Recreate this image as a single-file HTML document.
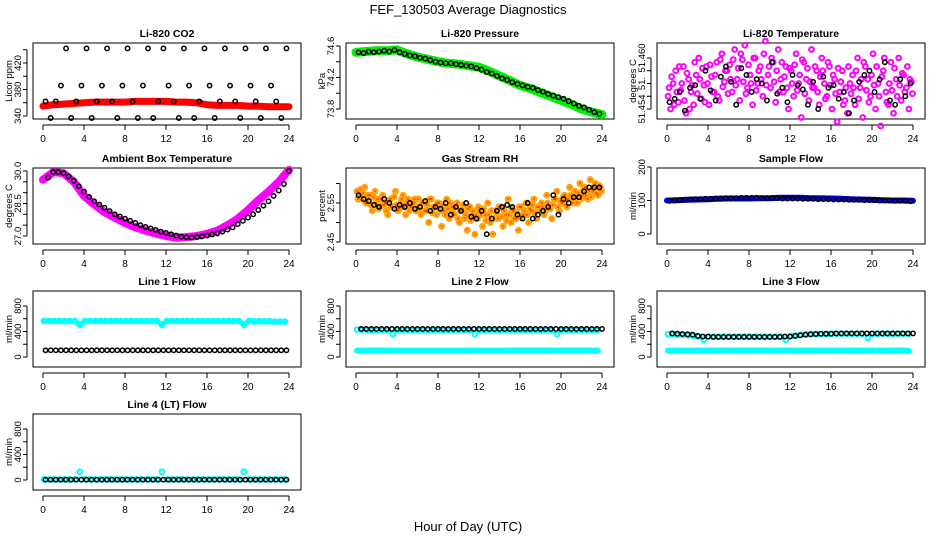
<!DOCTYPE html>
<html><head><meta charset="utf-8"><style>
html,body{margin:0;padding:0;background:#fff;}
svg{display:block;font-family:"Liberation Sans",sans-serif;}
</style></head><body>
<svg id="chart" width="936" height="540" viewBox="0 0 936 540" xmlns="http://www.w3.org/2000/svg">
<text x="468" y="14" text-anchor="middle" font-size="13">FEF_130503  Average Diagnostics</text>
<text x="468" y="531" text-anchor="middle" font-size="13">Hour of Day (UTC)</text>
</svg>
<script>
// ---- data ----
const xTicks=[0,4,8,12,16,20,24];
const co2Red=[355,357,358,359,360,361,361,361,361,362,362,362,362,361,361,360,357,356,356,356,355,355,354,354,354];
const co2Black=[362,337,362,386,442,337,362,386,442,337,362,386,442,362,337,386,442,362,337,386,442,337,362,442,386,362,337,442,386,337,362,442,386,337,362,442,386,362,337,442,386,362,337,442,386,362,337,442];
const presGreen=[74.52,74.53,74.54,74.54,74.55,74.50,74.46,74.43,74.40,74.38,74.37,74.35,74.33,74.28,74.22,74.16,74.10,74.06,74.01,73.96,73.91,73.86,73.80,73.76,73.73];
const presBlack=[74.52,74.51,74.53,74.52,74.53,74.54,74.53,74.55,74.52,74.50,74.48,74.47,74.45,74.44,74.42,74.40,74.39,74.38,74.38,74.37,74.36,74.35,74.34,74.32,74.30,74.27,74.25,74.22,74.19,74.17,74.14,74.12,74.10,74.08,74.07,74.04,74.02,73.99,73.97,73.95,73.93,73.90,73.87,73.84,73.82,73.79,73.76,73.74];
const tempMag=[51.4555,51.4540,51.4570,51.4585,51.4548,51.4562,51.4590,51.4535,51.4575,51.4560,51.4545,51.4580,51.4600,51.4552,51.4568,51.4590,51.4545,51.4578,51.4560,51.4595,51.4550,51.4605,51.4572,51.4585,
51.4592,51.4560,51.4610,51.4575,51.4550,51.4598,51.4615,51.4565,51.4580,51.4545,51.4600,51.4570,51.4590,51.4555,51.4620,51.4580,51.4565,51.4595,51.4548,51.4610,51.4575,51.4560,51.4590,51.4540,
51.4585,51.4555,51.4605,51.4570,51.4530,51.4595,51.4575,51.4550,51.4610,51.4565,51.4585,51.4545,51.4600,51.4570,51.4555,51.4590,51.4540,51.4575,51.4525,51.4560,51.4585,51.4550,51.4535,51.4570,
51.4580,51.4545,51.4600,51.4565,51.4530,51.4590,51.4575,51.4555,51.4605,51.4540,51.4570,51.4520,51.4585,51.4560,51.4545,51.4595,51.4535,51.4575,51.4600,51.4550,51.4580,51.4565,51.4540,51.4572];
const tempMag2=[51.4565,51.4578,51.4545,51.4560,51.4590,51.4570,51.4550,51.4582,51.4540,51.4568,51.4595,51.4558,51.4575,51.4588,51.4548,51.4570,51.4592,51.4560,51.4580,51.4555,51.4598,51.4566,51.4585,51.4558,
51.4575,51.4598,51.4568,51.4588,51.4605,51.4572,51.4558,51.4592,51.4570,51.4600,51.4562,51.4585,51.4575,51.4605,51.4568,51.4590,51.4600,51.4572,51.4585,51.4560,51.4595,51.4578,51.4565,51.4588,
51.4570,51.4592,51.4562,51.4580,51.4598,51.4558,51.4588,51.4572,51.4565,51.4590,51.4560,51.4578,51.4585,51.4552,51.4595,51.4568,51.4580,51.4558,51.4588,51.4572,51.4545,51.4565,51.4590,51.4558,
51.4565,51.4585,51.4552,51.4575,51.4595,51.4562,51.4548,51.4580,51.4568,51.4590,51.4555,51.4578,51.4600,51.4548,51.4570,51.4562,51.4588,51.4555,51.4568,51.4582,51.4560,51.4590,51.4575,51.4558];
const tempBlack=[51.4548,51.4552,51.4560,51.4538,51.4565,51.4568,51.4552,51.4585,51.4562,51.4550,51.4578,51.4590,51.4572,51.4545,51.4588,51.4580,51.4560,51.4575,51.4570,51.4550,51.4595,51.4558,51.4565,51.4548,51.4580,51.4568,51.4563,51.4545,51.4572,51.4540,51.4578,51.4565,51.4568,51.4552,51.4560,51.4535,51.4550,51.4572,51.4580,51.4585,51.4560,51.4575,51.4595,51.4550,51.4545,51.4575,51.4555,51.4570];
const ambMag=[29.6,29.95,29.9,29.5,28.85,28.45,28.1,27.85,27.6,27.4,27.25,27.12,27.0,26.92,26.95,27.0,27.1,27.25,27.5,27.8,28.2,28.65,29.05,29.5,30.05];
const ambBlack=[29.7,29.95,29.95,29.9,29.75,29.55,29.3,29.05,28.8,28.6,28.45,28.3,28.15,28.0,27.9,27.8,27.7,27.6,27.5,27.42,27.35,27.28,27.2,27.14,27.08,27.02,26.97,26.94,26.93,26.95,26.98,27.02,27.07,27.12,27.2,27.3,27.4,27.55,27.7,27.85,28.0,28.2,28.4,28.6,28.85,29.1,29.4,30.0];
const rhOrange=[2.58,2.57,2.56,2.59,2.55,2.57,2.53,2.58,2.56,2.54,2.57,2.55,2.52,2.56,2.54,2.58,2.53,2.55,2.57,2.52,2.56,2.54,2.55,2.53,
2.56,2.52,2.55,2.53,2.50,2.56,2.54,2.52,2.55,2.49,2.53,2.56,2.51,2.54,2.52,2.55,2.50,2.53,2.51,2.48,2.54,2.52,2.47,2.51,
2.53,2.49,2.52,2.55,2.50,2.47,2.53,2.51,2.54,2.49,2.52,2.56,2.50,2.53,2.51,2.48,2.54,2.52,2.55,2.50,2.53,2.56,2.51,2.54,
2.55,2.52,2.57,2.54,2.51,2.56,2.58,2.53,2.55,2.57,2.54,2.59,2.56,2.58,2.55,2.60,2.57,2.59,2.56,2.61,2.58,2.60,2.57,2.59];
const rhOrange2=[2.56,2.585,2.575,2.55,2.57,2.545,2.565,2.55,2.535,2.56,2.545,2.53,2.555,2.54,2.565,2.545,2.535,2.56,2.54,2.55,2.53,2.545,2.56,2.54,
2.535,2.55,2.53,2.545,2.56,2.525,2.54,2.55,2.53,2.545,2.52,2.535,2.55,2.525,2.54,2.51,2.53,2.545,2.52,2.535,2.505,2.53,2.52,2.54,
2.52,2.535,2.505,2.52,2.53,2.51,2.525,2.54,2.515,2.53,2.505,2.52,2.535,2.51,2.525,2.54,2.515,2.53,2.52,2.535,2.545,2.525,2.54,2.53,
2.54,2.53,2.55,2.535,2.545,2.56,2.54,2.555,2.565,2.545,2.56,2.57,2.55,2.565,2.575,2.56,2.585,2.57,2.58,2.565,2.59,2.575,2.595,2.58];
const rhBlack=[2.57,2.56,2.555,2.545,2.54,2.56,2.55,2.535,2.545,2.54,2.55,2.535,2.54,2.555,2.53,2.54,2.535,2.55,2.52,2.54,2.53,2.55,2.515,2.51,2.53,2.47,2.51,2.53,2.54,2.545,2.54,2.52,2.51,2.55,2.51,2.52,2.53,2.54,2.57,2.52,2.56,2.55,2.565,2.565,2.58,2.59,2.59,2.59];
const sfBlue=[100,101,102,103,104,105,106,106,106,107,107,108,108,108,107,107,106,105,104,103,102,101,100,100,99];
const sfBlack=[99,100,101,102,103,104,104,105,105,106,106,107,107,107,108,108,108,108,107,107,107,107,106,106,106,106,105,105,105,104,104,104,103,103,103,102,102,102,101,101,101,100,100,100,99,99,99,98];
const l1Cyan=[565,565,565,565,565,565,565,505,565,565,565,565,565,565,565,565,565,565,565,565,565,565,565,505,565,565,565,565,565,565,565,565,565,565,565,565,565,565,565,505,565,560,560,560,560,555,555,555];
const l1Black=[105,105,105,105,105,105,105,105,105,105,105,105,105,105,105,105,105,105,105,105,105,105,105,105,105,105,105,105,105,105,105,105,105,105,105,105,105,105,105,105,105,105,105,105,105,105,105,105];
const l2CyanHi=[430,425,420,420,420,420,420,360,420,420,420,420,420,420,420,420,420,420,420,420,420,420,420,360,420,420,420,420,420,420,420,420,420,420,420,420,420,420,420,360,420,420,420,420,420,420,420,420];
const l2CyanLo=[100,100,100,100,100,100,100,100,100,100,100,100,100,100,100,100,100,100,100,100,100,100,100,100,100,100,100,100,100,100,100,100,100,100,100,100,100,100,100,100,100,100,100,100,100,100,100,100];
const l2Black=[440,440,440,440,440,440,440,440,440,440,440,440,440,440,440,440,440,440,440,440,440,440,440,440,440,440,440,440,440,440,440,440,440,440,440,440,440,440,440,440,440,440,440,440,440,440,440,440];
const l3CyanHi=[360,355,350,345,340,330,320,270,320,320,320,320,320,320,320,320,320,320,320,320,320,320,320,270,330,340,350,355,360,360,360,360,365,365,365,365,365,365,365,300,365,365,365,365,365,365,365,365];
const l3CyanLo=[100,100,100,100,100,100,100,100,100,100,100,100,100,100,100,100,100,100,100,100,100,100,100,100,100,100,100,100,100,100,100,100,100,100,100,100,100,100,100,100,100,100,100,100,100,100,100,95];
const l3Black=[370,365,360,355,350,330,320,320,315,315,315,315,315,315,315,315,315,315,315,315,315,315,320,320,330,340,350,355,360,365,365,365,370,370,370,370,370,370,370,370,370,370,370,370,370,370,370,370];
const l4Cyan=[10,10,10,10,10,10,10,130,10,10,10,10,10,10,10,10,10,10,10,10,10,10,10,130,10,10,10,10,10,10,10,10,10,10,10,10,10,10,10,130,10,10,10,10,10,10,10,10];
const l4Black=[5,5,5,5,5,5,5,5,5,5,5,5,5,5,5,5,5,5,5,5,5,5,5,5,5,5,5,5,5,5,5,5,5,5,5,5,5,5,5,5,5,5,5,5,5,5,5,5];
const flowTicks=[0,200,400,600,800];
const flowLabels=["0","","400","","800"];

// ---- drawing ----
const NS="http://www.w3.org/2000/svg";
const svg=document.getElementById('chart');
function mk(tag,attrs,parent){const e=document.createElementNS(NS,tag);for(const k in attrs)e.setAttribute(k,attrs[k]);(parent||svg).appendChild(e);return e;}
const colX=[43,356,667], rowTop=[43,168,291,414], H=76;

function panel(c,r,title,ylab,v0,y0,v1,y1,yt,yl,name){
  const g=mk('g',{});
  
  
  const x0=colX[c], top=rowTop[r];
  const xs=h=>x0+h*10.25;
  const ys=v=>y0+(v-v0)*(y1-y0)/(v1-v0);
  const L=x0-10,R=x0+258,B=top+H;
  const box=mk('rect',{x:L,y:top,width:R-L,height:H,fill:'none',stroke:'#000','stroke-width':1},g);
  
  
  const t=mk('text',{x:(L+R)/2,y:top-6,'text-anchor':'middle','font-size':10.5,'font-weight':'bold'},g);
  t.textContent=title;
  
  
  mk('line',{x1:xs(0),x2:xs(24),y1:B+6,y2:B+6,stroke:'#000'},g);
  xTicks.forEach(h=>{
    mk('line',{x1:xs(h),x2:xs(h),y1:B+6,y2:B+11,stroke:'#000'},g);
    const tx=mk('text',{x:xs(h),y:B+23,'text-anchor':'middle','font-size':10},g);
    tx.textContent=h;
    
    
  });
  const yA=L-6;
  mk('line',{x1:yA,x2:yA,y1:ys(yt[0]),y2:ys(yt[yt.length-1]),stroke:'#000'},g);
  yt.forEach((v,i)=>{
    mk('line',{x1:yA-4,x2:yA,y1:ys(v),y2:ys(v),stroke:'#000'},g);
    if(yl[i]){const tx=mk('text',{x:0,y:0,'text-anchor':'middle','font-size':9.5,transform:`translate(${L-12},${ys(v)}) rotate(-90)`},g);
      tx.textContent=yl[i];
      
      }
  });
  const yt2=mk('text',{x:0,y:0,'text-anchor':'middle','font-size':9.5,transform:`translate(${L-21},${top+H/2}) rotate(-90)`},g);
  yt2.textContent=ylab;
  
  
  return {g,xs,ys};
}
function band(p,vals,step,start,color,w,nm){
  const pts=vals.map((v,i)=>p.xs(start+i*step).toFixed(1)+','+p.ys(v).toFixed(1)).join(' ');
  const pl=mk('polyline',{points:pts,fill:'none',stroke:color,'stroke-width':w,'stroke-linejoin':'round','stroke-linecap':'round'},p.g);
  
  
}
function pts(p,vals,step,start,color,r,sw,nm){
  vals.forEach((v,i)=>{
    const c=mk('circle',{cx:p.xs(start+i*step),cy:p.ys(v),r:r,fill:'none',stroke:color,'stroke-width':sw},p.g);
    
    
  });
}
// CO2
let p=panel(0,0,'Li-820 CO2','Licor ppm',340,116,420,63,[340,360,380,400,420,440],['340','','380','','420',''],'co2');
band(p,co2Red,1,0,'#ff0000',7,'co2-red-band');
pts(p,co2Black,0.5,0.25,'#000',2.2,1.5,'co2-point');
// Pressure
p=panel(1,0,'Li-820 Pressure','kPa',74.6,46,73.8,109,[73.8,74.0,74.2,74.4,74.6],['73.8','','74.2','','74.6'],'pressure');
band(p,presGreen,1,0,'#00ee00',9,'pressure-green-band');
pts(p,presBlack,0.5,0.25,'#000',2.2,1.5,'pressure-point');
// Temperature
p=panel(2,0,'Li-820 Temperature','degrees C',51.460,58,51.454,109,[51.454,51.4555,51.457,51.4585,51.460],['51.454','','51.','','51.460'],'li820-temp');
pts(p,tempMag,0.25,0.1,'#ff00ff',2.4,2,'temp-magenta-point');
pts(p,tempMag2,0.25,0.2,'#ff00ff',2.4,2,'temp-magenta-point');
pts(p,tempBlack,0.5,0.25,'#000',2.2,1.5,'temp-point');
// Ambient
p=panel(0,1,'Ambient Box Temperature','degrees C',30.0,171,27.0,236,[27.0,27.5,28.0,28.5,29.0,29.5,30.0],['27.0','','','28.5','','','30.0'],'ambient');
band(p,ambMag,1,0,'#ff00ff',8,'ambient-magenta-band');
pts(p,ambBlack,0.5,0.5,'#000',2.2,1.5,'ambient-point');
// RH
p=panel(1,1,'Gas Stream RH','percent',2.55,203,2.45,242,[2.45,2.50,2.55,2.60],['2.45','','2.55',''],'rh');
pts(p,rhOrange,0.25,0.1,'#ffa500',2.4,2.2,'rh-orange-point');
pts(p,rhOrange2,0.25,0.2,'#ffa500',2.4,2.2,'rh-orange-point');
pts(p,rhOrange,0.25,0.1,'#ff3300',0.8,0.8,'rh-red-dot');
pts(p,rhOrange2,0.25,0.2,'#ff3300',0.8,0.8,'rh-red-dot');
pts(p,rhBlack,0.5,0.25,'#000',2.2,1.5,'rh-point');
// Sample flow
p=panel(2,1,'Sample Flow','ml/min',200,167,0,234,[0,100,200],['0','100','200'],'sample-flow');
band(p,sfBlue,1,0,'#0000ff',6,'sample-flow-blue-band');
pts(p,sfBlack,0.5,0.25,'#000',2.2,1.5,'sample-flow-point');
// Line 1
p=panel(0,2,'Line 1 Flow','ml/min',0,357,800,306,flowTicks,flowLabels,'line1');
band(p,l1Cyan,0.5,0.1,'#00ffff',5,'line1-cyan-band');
pts(p,l1Cyan,0.5,0.1,'#00ffff',2.4,2,'line1-cyan-point');
pts(p,l1Black,0.5,0.25,'#000',2.2,1.5,'line1-point');
// Line 2
p=panel(1,2,'Line 2 Flow','ml/min',0,357,800,306,flowTicks,flowLabels,'line2');
pts(p,l2CyanHi,0.5,0.1,'#00ffff',2.4,2,'line2-cyan-point');
band(p,l2CyanLo,0.5,0.1,'#00ffff',6,'line2-cyan-low-band');
pts(p,l2Black,0.5,0.5,'#000',2.2,1.5,'line2-point');
// Line 3
p=panel(2,2,'Line 3 Flow','ml/min',0,357,800,306,flowTicks,flowLabels,'line3');
pts(p,l3CyanHi,0.5,0.1,'#00ffff',2.4,2,'line3-cyan-point');
band(p,l3CyanLo,0.5,0.1,'#00ffff',6,'line3-cyan-low-band');
pts(p,l3Black,0.5,0.5,'#000',2.2,1.5,'line3-point');
// Line 4
p=panel(0,3,'Line 4 (LT) Flow','ml/min',0,480,800,429,flowTicks,flowLabels,'line4');
pts(p,l4Cyan,0.5,0.1,'#00ffff',2.4,2,'line4-cyan-point');
pts(p,l4Black,0.5,0.25,'#000',2.2,1.5,'line4-point');
</script>
</body></html>
